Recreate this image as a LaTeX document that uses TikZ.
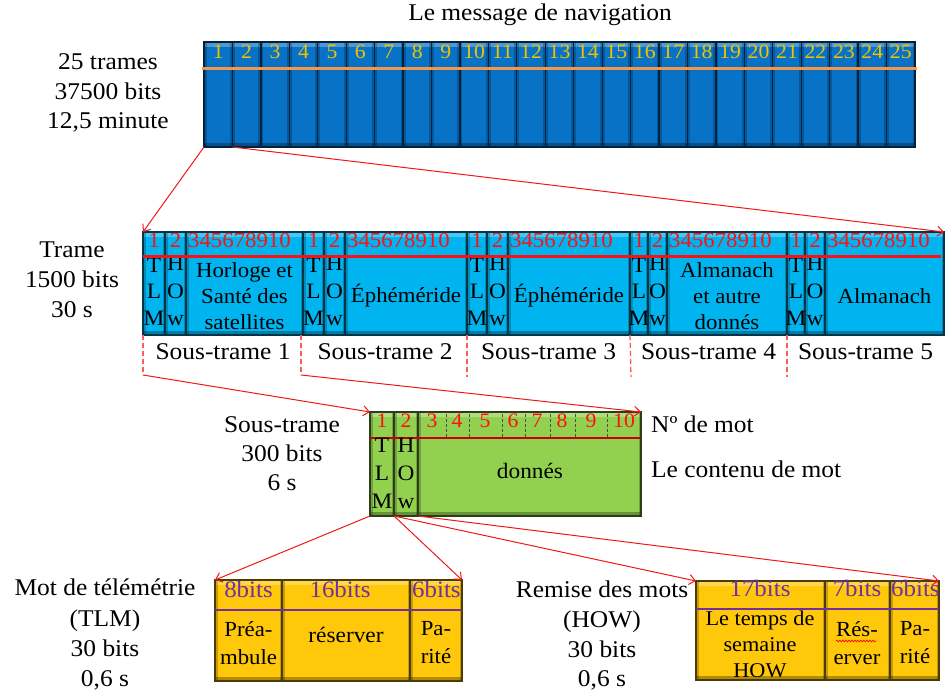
\documentclass[tikz,border=0pt]{standalone}
\usepackage{fontspec}
\setmainfont{Liberation Serif}[FakeStretch=1.06]
\usetikzlibrary{arrows.meta,decorations.pathmorphing}

\definecolor{barblue}{HTML}{0872C6}
\definecolor{barnum}{HTML}{F2C200}
\definecolor{barline}{HTML}{F79646}
\definecolor{cyanfill}{HTML}{00B4F0}
\definecolor{greenfill}{HTML}{92D050}
\definecolor{goldfill}{HTML}{FFC80A}
\definecolor{wordpurple}{HTML}{7030A0}
\definecolor{linkred}{HTML}{F01818}
\definecolor{dashred}{HTML}{FF5A5A}
\definecolor{numred}{HTML}{FF1010}

\newcommand\fsz[2]{\fontsize{#1}{#2}\selectfont}

\tikzset{
  bevel/.style={fill=#1, draw=#1!30!black, line width=1.3pt, inner sep=0pt,
    outer sep=0pt, anchor=north west,
    path picture={
      \fill[white,opacity=.28] (path picture bounding box.north west)
        rectangle ([yshift=-5pt]path picture bounding box.north east);
      \fill[black,opacity=.22] (path picture bounding box.north west)
        rectangle ([xshift=2.5pt]path picture bounding box.south west);
      \fill[black,opacity=.22] ([xshift=-2.5pt]path picture bounding box.north east)
        rectangle (path picture bounding box.south east);
      \fill[black,opacity=.3] ([yshift=4pt]path picture bounding box.south west)
        rectangle (path picture bounding box.south east);
    }},
  txt/.style={inner sep=0pt, text height=0.68em, text depth=0.2em},
  lbl/.style={txt, font=\fsz{24}{29}},
  barnumtxt/.style={txt, font=\fsz{20.5}{20}, text=barnum},
  trnum/.style={txt, font=\fsz{21.5}{20}, text=numred},
  celltxt/.style={txt, font=\fsz{22}{26}},
  blocktxt/.style={inner sep=0pt, font=\fsz{21.5}{26}, align=center},
  stnum/.style={txt, font=\fsz{20.5}{19}, text=numred},
  bitstxt/.style={txt, font=\fsz{23.5}{22}, text=wordpurple},
  wordtxt/.style={inner sep=0pt, font=\fsz{21.5}{28}, align=center},
  link/.style={draw=linkred, line width=1pt, -{Straight Barb[length=6pt,width=10pt]}},
  dashlink/.style={draw=dashred, line width=1.3pt, dash pattern=on 5pt off 3pt},
}

% one sub-frame of the frame row: index, x start, TLM width, HOW width, x end, content
\newcommand\subframe[6]{%
  \pgfmathsetmacro\hx{#2+#3}%
  \pgfmathsetmacro\dx{#2+#3+#4}%
  \pgfmathsetmacro\dw{#5-\dx}%
  \pgfmathsetmacro\tm{#2+#3/2}%
  \pgfmathsetmacro\hm{#2+#3+#4/2}%
  \pgfmathsetmacro\dm{(\dx+#5)/2}%
  \pgfmathsetmacro\sm{(#2+#5)/2}%
  \node[bevel=cyanfill, minimum width=#3pt, minimum height=103pt] (tlm#1) at (#2,232) {};
  \node[bevel=cyanfill, minimum width=#4pt, minimum height=103pt] (how#1) at (\hx,232) {};
  \node[bevel=cyanfill, minimum width=\dw pt, minimum height=103pt] (dat#1) at (\dx,232) {};
  \node[trnum] at (\tm,245) {1};
  \node[trnum] at (\hm,245) {2};
  \node[trnum, anchor=west] at (\dx+2,245) {345678910};
  \node[celltxt] at (\tm,270) {T};
  \node[celltxt] at (\tm,296) {L};
  \node[celltxt] at (\tm,323) {M};
  \node[celltxt] at (\hm,268) {H};
  \node[celltxt] at (\hm,296) {O};
  \node[celltxt] at (\hm,323) {w};
  \node[blocktxt] at (\dm,296) {#6};
  \node[lbl] (st#1) at (\sm,357) {Sous-trame #1};
}

\begin{document}
\begin{tikzpicture}[x=1pt,y=-1pt]
\useasboundingbox (0,0) rectangle (946,695);
\fill[white] (0,0) rectangle (946,695);

% ---- navigation message: 25 frames ----
\node[lbl] (title) at (540,18) {Le message de navigation};
\node[lbl] (l1) at (108,67) {25 trames};
\node[lbl] (l2) at (108,97) {37500 bits};
\node[lbl] (l3) at (108,126) {12,5 minute};
\foreach \i in {1,...,25}{
  \node[bevel=barblue, minimum width=28.44pt, minimum height=105pt] (f\i) at ({204+(\i-1)*28.44},42) {};
}
\draw[barline, line width=3pt] (202,69) -- (917,69);
\foreach \i in {1,...,25}{
  \node[barnumtxt] (n\i) at ({218.22+(\i-1)*28.44},56) {\i};
}

% ---- one frame: 5 sub-frames ----
\node[lbl] (t1) at (72,255) {Trame};
\node[lbl] (t2) at (72,285) {1500 bits};
\node[lbl] (t3) at (72,315) {30 s};
\subframe{1}{143}{22}{21}{303}{Horloge et\\Santé des\\satellites}
\subframe{2}{303}{21}{21}{467}{Éphéméride}
\subframe{3}{467}{20}{21}{630}{Éphéméride}
\subframe{4}{630}{18}{19}{787}{Almanach\\et autre\\donnés}
\subframe{5}{787}{18}{20}{944}{Almanach}
\draw[numred, line width=3pt] (143,257) -- (941,257);

\draw[link] (f1.south west) -- (tlm1.north west);
\draw[link] (f1.south east) -- (dat5.north east);

% ---- one sub-frame: 10 words ----
\node[lbl] (s1) at (282,430) {Sous-trame};
\node[lbl] (s2) at (282,459) {300 bits};
\node[lbl] (s3) at (282,488) {6 s};
\node[bevel=greenfill, minimum width=24pt, minimum height=104pt] (stl) at (370,412) {};
\node[bevel=greenfill, minimum width=24pt, minimum height=104pt] (sth) at (394,412) {};
\node[bevel=greenfill, minimum width=223pt, minimum height=104pt] (std) at (418,412) {};
\foreach \x in {446,469,502,525,550,575,607}{
  \draw[black!70, line width=1pt, dash pattern=on 3pt off 2pt] (\x,414) -- (\x,437);
}
\draw[red!80!black, line width=2pt] (370,438) -- (641,438);
\node[stnum] at (382,425) {1};
\node[stnum] at (406,425) {2};
\foreach \x/\n in {432/3,457/4,485/5,513/6,537/7,562/8,591/9,624/10}{
  \node[stnum] at (\x,425) {\n};
}
\node[celltxt] at (382,450) {T};
\node[celltxt] at (382,478) {L};
\node[celltxt] at (382,506) {M};
\node[celltxt] at (406,450) {H};
\node[celltxt] at (406,478) {O};
\node[celltxt] at (406,506) {w};
\node[celltxt] (don) at (530,476) {donnés};
\node[lbl, anchor=west] (nmot) at (651,430) {Nº de mot};
\node[lbl, anchor=west] (cmot) at (651,475) {Le contenu de mot};

\coordinate (k1) at (143,375);
\coordinate (k2) at (301,375);
\coordinate (k3) at (467,377);
\coordinate (k4) at (631,377);
\coordinate (k5) at (787,377);
\draw[dashlink] (tlm1.south west) -- (k1);
\draw[dashlink] (301,335) -- (k2);
\draw[dashlink] (tlm3.south west) -- (k3);
\draw[dashlink] (tlm4.south west) -- (k4);
\draw[dashlink] (tlm5.south west) -- (k5);
\draw[link] (k1) -- (stl.north west);
\draw[link] (k2) -- (std.north east);

% ---- telemetry word ----
\node[lbl] (m1) at (105,593) {Mot de télémétrie};
\node[lbl] (m2) at (105,624) {(TLM)};
\node[lbl] (m3) at (105,654) {30 bits};
\node[lbl] (m4) at (105,684) {0,6 s};
\node[bevel=goldfill, minimum width=67pt, minimum height=101pt] (w1) at (215,580) {};
\node[bevel=goldfill, minimum width=128pt, minimum height=101pt] (w2) at (282,580) {};
\node[bevel=goldfill, minimum width=52pt, minimum height=101pt] (w3) at (410,580) {};
\draw[wordpurple, line width=2pt] (215,610) -- (462,610);
\node[bitstxt] at (248.5,595) {8bits};
\node[bitstxt] at (340,595) {16bits};
\node[bitstxt, anchor=west] at (412,595) {6bits};
\node[wordtxt] at (248.5,643) {Préa-\\mbule};
\node[celltxt] at (346,640) {réserver};
\node[wordtxt] at (436,643) {Pa-\\rité};

% ---- hand-over word ----
\node[lbl] (r1) at (602,595) {Remise des mots};
\node[lbl] (r2) at (602,625) {(HOW)};
\node[lbl] (r3) at (602,655) {30 bits};
\node[lbl] (r4) at (602,684) {0,6 s};
\node[bevel=goldfill, minimum width=129pt, minimum height=99pt] (h1) at (696,581) {};
\node[bevel=goldfill, minimum width=65pt, minimum height=99pt] (h2) at (825,581) {};
\node[bevel=goldfill, minimum width=49pt, minimum height=99pt] (h3) at (890,581) {};
\draw[wordpurple, line width=2pt] (696,609) -- (939,609);
\node[bitstxt] at (760,594) {17bits};
\node[bitstxt] at (857,594) {7bits};
\node[bitstxt, anchor=west] at (891,594) {6bits};
\node[wordtxt, font=\fsz{21}{26}] at (760,644) {Le temps de\\semaine\\HOW};
\node[wordtxt] at (857,643) {Rés-\\erver};
\node[wordtxt] at (915,643) {Pa-\\rité};
\draw[red, line width=0.7pt, decorate, decoration={snake,amplitude=0.8pt,segment length=3pt}]
  (836,641) -- (876,641);

\draw[link] (stl.south west) -- (w1.north west);
\draw[link] (sth.south west) -- (w3.north east);
\draw[link] (sth.south west) -- (h1.north west);
\draw[link] (sth.south east) -- (h3.north east);
\end{tikzpicture}
\end{document}
